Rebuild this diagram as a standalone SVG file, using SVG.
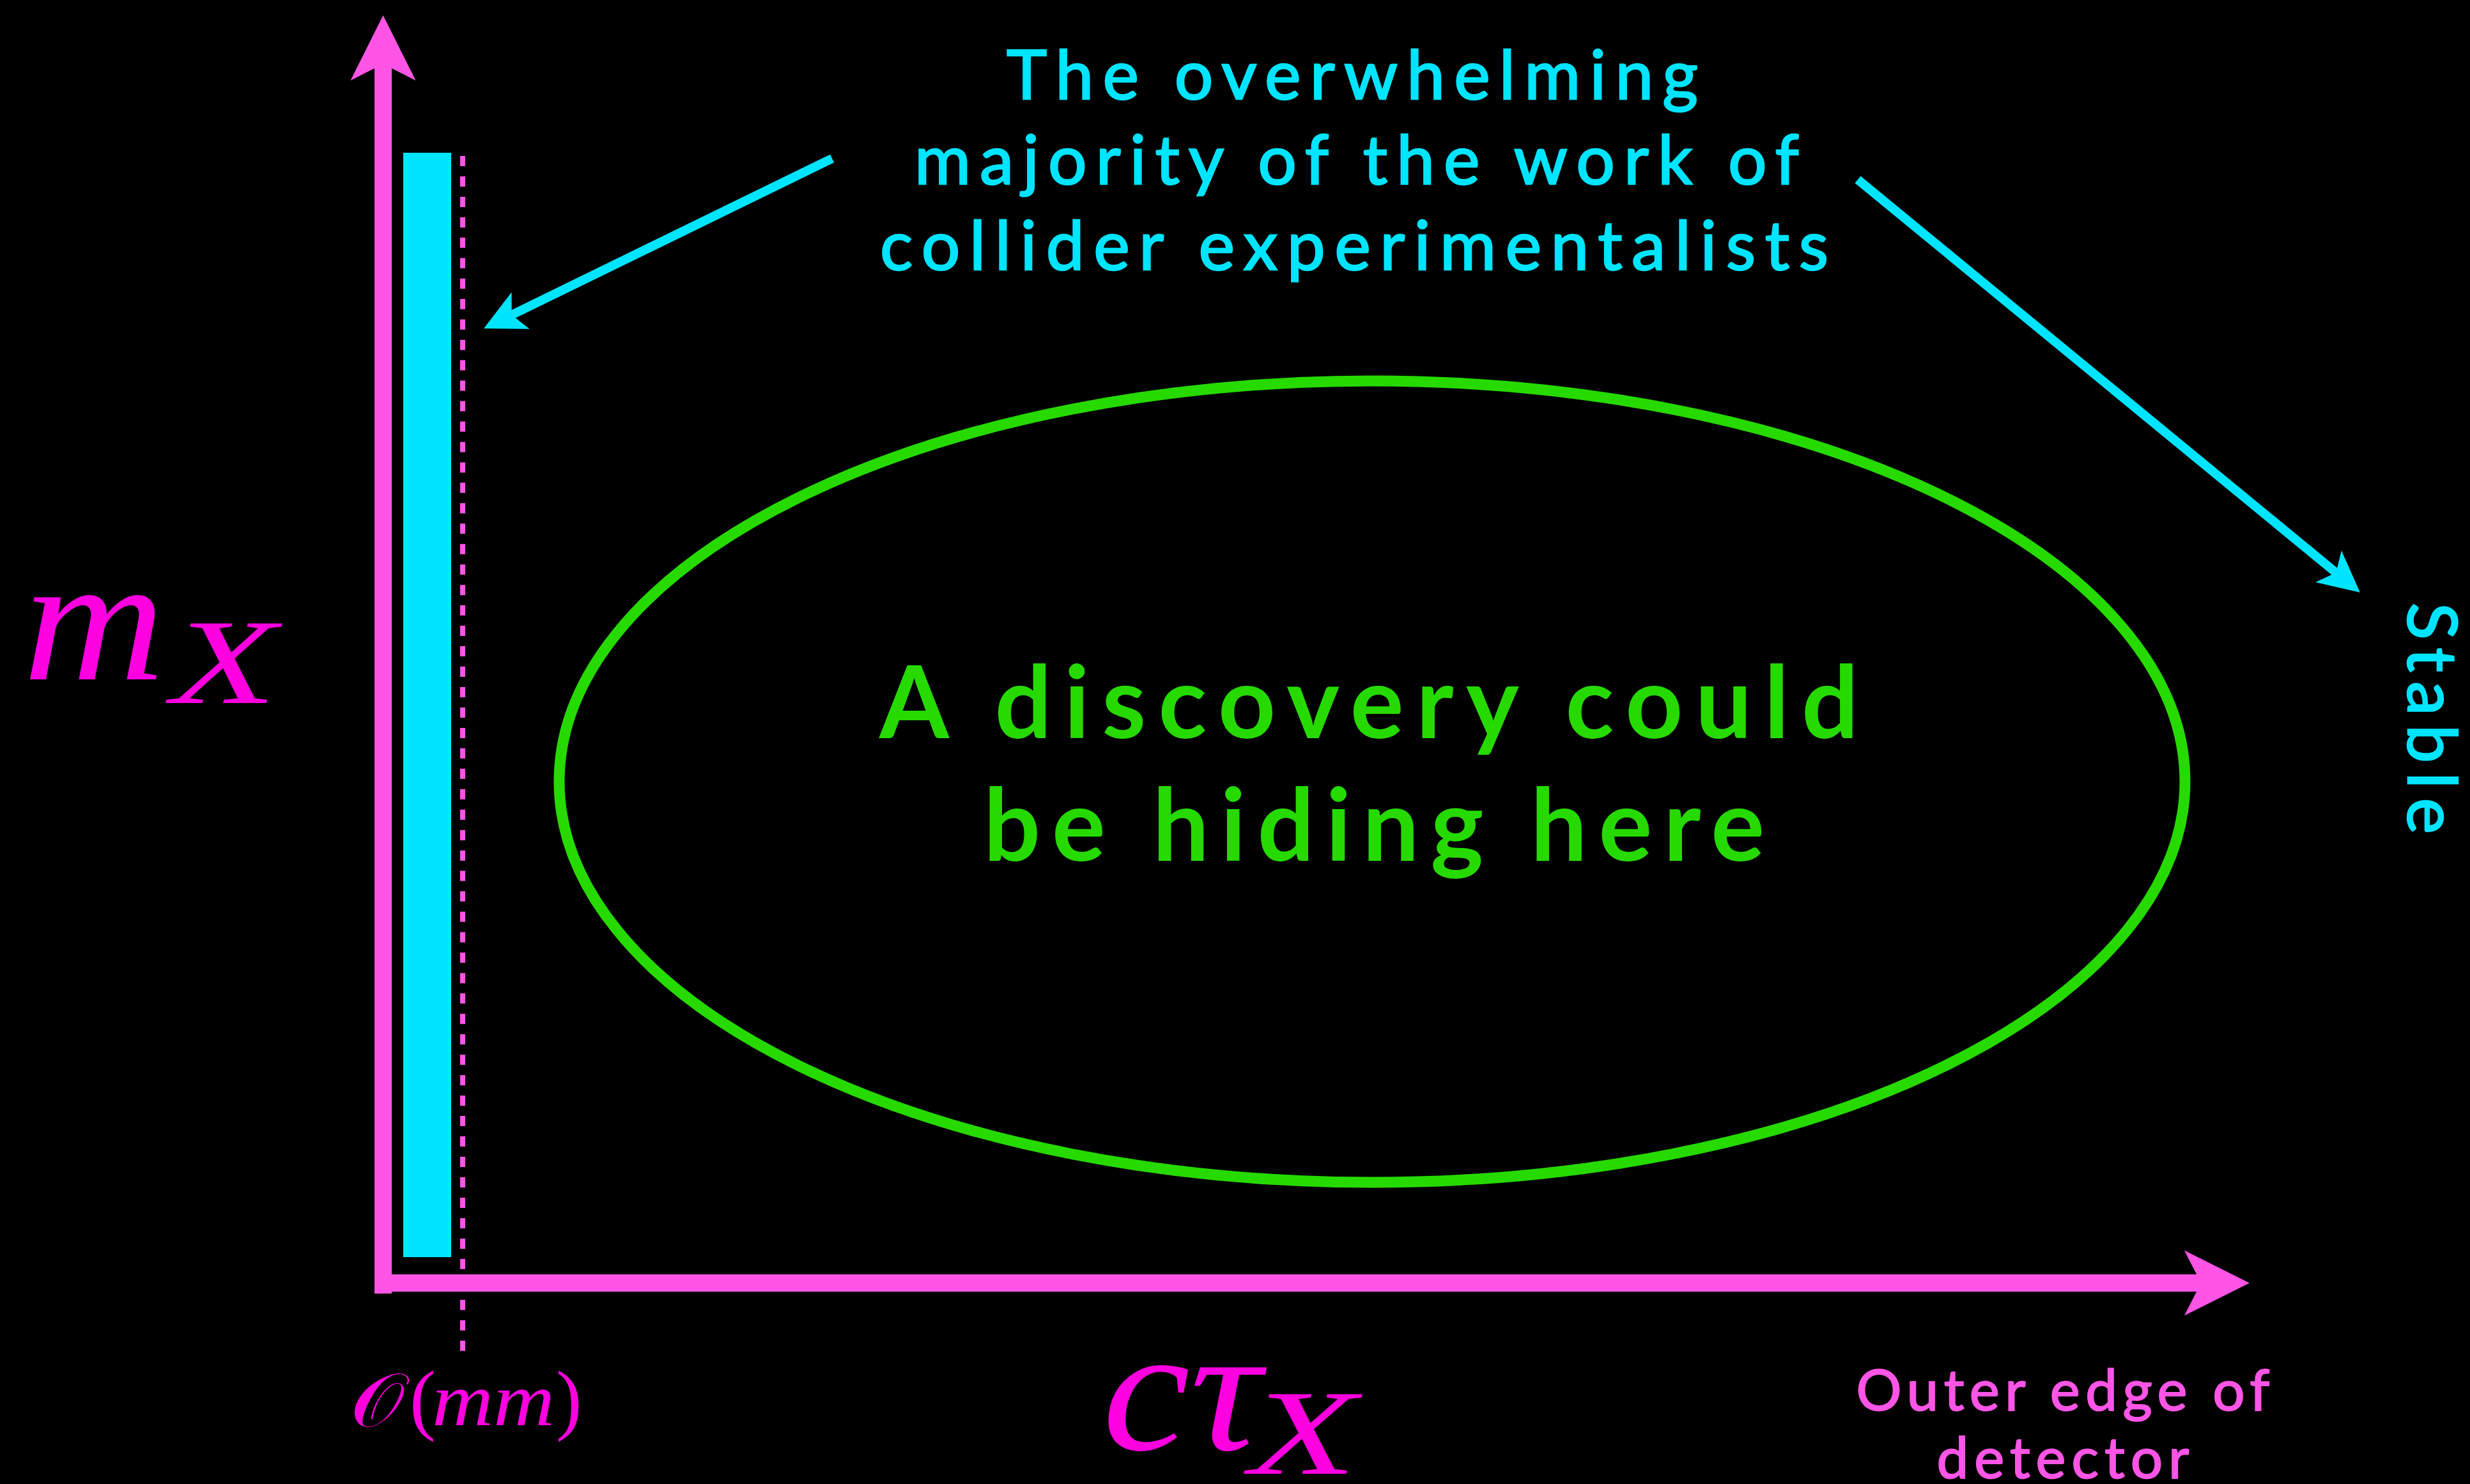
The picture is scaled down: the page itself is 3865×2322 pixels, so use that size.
<svg xmlns="http://www.w3.org/2000/svg" width="3865" height="2322" viewBox="0 0 3865 2322">
<defs>
<style>
.axis{stroke:#FF55E6;stroke-width:27;fill:none}
.cy{stroke:#00E5FF;stroke-width:14;fill:none}
.title{font-family:Lato,"Open Sans","Liberation Sans",sans-serif;font-size:107px;fill:#00E5FF;stroke:#00E5FF;stroke-width:2.5px;text-anchor:middle}
.green{font-family:Lato,"Open Sans","Liberation Sans",sans-serif;font-size:157px;font-weight:bold;fill:#26DA00;text-anchor:middle}
.pink{font-family:Lato,"Open Sans","Liberation Sans",sans-serif;font-size:89px;fill:#FF55E6;stroke:#FF55E6;stroke-width:2px;text-anchor:middle}
.math{font-family:"Liberation Serif","DejaVu Serif",serif;font-style:italic;fill:#FF00E0}
.up{font-family:"Liberation Serif","DejaVu Serif",serif;fill:#FF00DD}
</style>
<marker id="axhead" markerUnits="userSpaceOnUse" orient="auto" refX="0" refY="0" markerWidth="110" markerHeight="110" overflow="visible">
<path d="M76,0 L-26,-51 L0,0 L-26,51 Z" fill="#FF55E6"/>
</marker>
<marker id="cyhead" markerUnits="userSpaceOnUse" orient="auto" refX="0" refY="0" markerWidth="70" markerHeight="70" overflow="visible">
<path d="M48.6,0 L-15.4,-32 L0,0 L-15.4,32 Z" fill="#00E5FF"/>
</marker>
</defs>
<rect x="0" y="0" width="3865" height="2322" fill="#000"/>

<g id="axes">
<line class="axis" x1="599.5" y1="2024" x2="599.5" y2="100" marker-end="url(#axhead)"/>
<line class="axis" x1="586" y1="2007.5" x2="3444" y2="2007.5" marker-end="url(#axhead)"/>
</g>

<g id="collider-band">
<rect x="631" y="239" width="75" height="1728" fill="#00E5FF"/>
<line x1="724" y1="244" x2="724" y2="2114" stroke="#FF55E6" stroke-width="8" stroke-dasharray="16 15.96"/>
</g>

<g id="discovery-region">
<ellipse cx="2147" cy="1223" rx="1272" ry="627" fill="none" stroke="#26DA00" stroke-width="17"/>
<text class="green" x="2142" y="1155" textLength="1532" lengthAdjust="spacing">A discovery could</text>
<text class="green" x="2150" y="1347" textLength="1222" lengthAdjust="spacing">be hiding here</text>
</g>

<g id="title">
<text class="title" x="2116" y="155" textLength="1082" lengthAdjust="spacing">The overwhelming</text>
<text class="title" x="2123" y="288" textLength="1384" lengthAdjust="spacing">majority of the work of</text>
<text class="title" x="2119" y="422" textLength="1484" lengthAdjust="spacing">collider experimentalists</text>
</g>

<g id="stable-label">
<text class="title" transform="translate(3768,1124) rotate(90)" x="0" y="0" font-size="112" textLength="362" lengthAdjust="spacing">Stable</text>
</g>

<g id="outer-edge-label">
<text class="pink" x="3228" y="2207" textLength="647" lengthAdjust="spacing">Outer edge of</text>
<text class="pink" x="3228" y="2313" textLength="395" lengthAdjust="spacing">detector</text>
</g>

<g id="y-label">
<text class="math" x="36" y="1063" font-size="280" textLength="222" lengthAdjust="spacingAndGlyphs">m</text>
<text class="math" x="268" y="1100" font-size="190" textLength="165" lengthAdjust="spacingAndGlyphs">X</text>
</g>

<g id="x-label">
<text class="math" x="1725" y="2268" font-size="280" textLength="248" lengthAdjust="spacingAndGlyphs">cτ</text>
<text class="math" x="1955" y="2306" font-size="190" textLength="168" lengthAdjust="spacingAndGlyphs">X</text>
</g>

<g id="mm-label">
<text class="up" x="548" y="2232" font-size="118" textLength="84" lengthAdjust="spacingAndGlyphs">𝒪</text>
<text class="up" x="641" y="2230" font-size="122">(</text>
<text class="math" x="676" y="2230" font-size="118" fill="#FF00DD" textLength="192" lengthAdjust="spacingAndGlyphs">mm</text>
<text class="up" x="870" y="2230" font-size="122">)</text>
</g>

<g id="connectors">
<line class="cy" x1="1302" y1="248" x2="800.7" y2="492.7" marker-end="url(#cyhead)"/>
<line class="cy" x1="2907" y1="281" x2="3655.4" y2="896.1" marker-end="url(#cyhead)"/>
</g>
</svg>
